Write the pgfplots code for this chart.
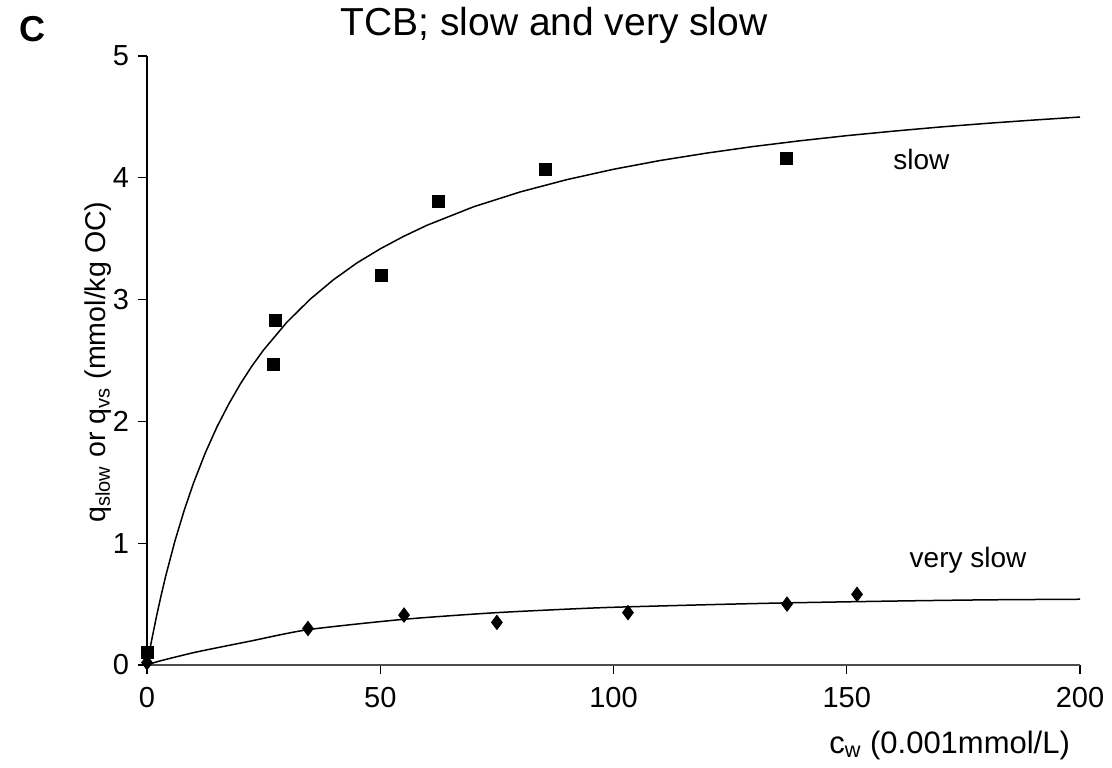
\documentclass[border=0pt]{standalone}
\usepackage{pgfplots}
\pgfplotsset{compat=1.18}
\usepackage{fontspec}
\setmainfont{Liberation Sans}

\begin{document}
\begin{tikzpicture}[x=0.5pt,y=0.5pt]
% page frame
\path (0,0) rectangle (1112,767);
\begin{axis}[
  at={(73.5pt,51pt)}, anchor=origin,
  scale only axis, width=466.5pt, height=304.5pt,
  xmin=0, xmax=200, ymin=0, ymax=5,
  axis x line*=bottom, axis y line*=left,
  x axis line style={-, black!70, line width=0.8pt},
  y axis line style={-, black, line width=0.9pt},
  xtick={0,50,100,150,200}, ytick={0,1,2,3,4,5},
  tick align=outside, major tick length=4.5pt,
  tick style={black, line width=0.6pt},
  /pgf/number format/assume math mode=true,
  ticklabel style={font=\fontsize{14.5}{16}\selectfont},
  xticklabel style={yshift=-3pt},
  yticklabel style={xshift=-1pt},
  clip=false,
]
% slow: fitted sorption curve
\addplot[black, line width=0.75pt] coordinates {
  (0,0) (0.5,0.105) (1,0.204) (2,0.393) (3,0.567) (4,0.729) (6,1.020)
  (8,1.273) (10,1.497) (12.5,1.742) (15,1.955) (17.5,2.141) (20,2.307)
  (22.5,2.455) (25,2.587) (30,2.815) (35,3.004) (40,3.164) (45,3.301)
  (50,3.417) (55,3.519) (60,3.610) (70,3.762) (80,3.884) (90,3.985)
  (100,4.070) (110,4.142) (120,4.203) (130,4.257) (140,4.304)
  (150,4.346) (160,4.383) (170,4.417) (180,4.447) (190,4.474) (200,4.499)
};
% slow: measured
\addplot[only marks, mark=square*, mark size=3pt, black] coordinates {
  (0,0.10) (27.0,2.47) (27.6,2.83) (50.2,3.20) (62.4,3.81) (85.5,4.07) (137,4.16)
};
% very slow: fitted sorption curve
\addplot[black, line width=0.75pt, smooth, tension=0.4] coordinates {
  (0,0) (2,0.025) (5,0.055) (11,0.11) (22,0.195) (34.5,0.29) (55,0.375)
  (75,0.43) (97,0.47) (120,0.495) (137,0.51) (160,0.525) (180,0.535) (200,0.54)
};
% very slow: measured
\addplot[only marks, mark=diamond*, mark size=3.6pt, black] coordinates {
  (0,0.02) (34.5,0.30) (55.1,0.41) (75,0.35) (103.1,0.43) (137.2,0.50) (152.2,0.58)
};
\node[font=\fontsize{14}{16}\selectfont] at (axis cs:166,4.15) {slow};
\node[font=\fontsize{14}{16}\selectfont] at (axis cs:176,0.86) {very slow};
\end{axis}
% panel letter and title
\node[font=\bfseries\fontsize{18}{20}\selectfont] at (32,738) {C};
\node[font=\fontsize{19.5}{22}\selectfont] at (554,742) {TCB; slow and very slow};
% axis titles
\node[font=\fontsize{14.3}{16}\selectfont, rotate=90] at (98,405)
  {q\textsubscript{slow} or q\textsubscript{vs} (mmol/kg OC)};
\node[font=\fontsize{15.5}{17}\selectfont, anchor=east] at (1077,22)
  {c\textsubscript{w} (0.001mmol/L)};
\end{tikzpicture}
\end{document}
